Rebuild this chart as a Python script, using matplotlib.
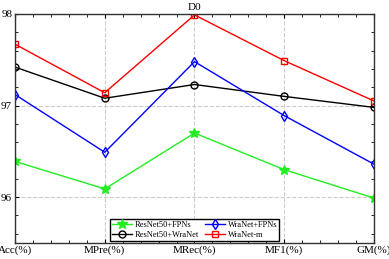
import numpy as np
import matplotlib.pyplot as plt
from matplotlib.ticker import MultipleLocator

plt.rcParams['font.family'] = ['Liberation Serif', 'DejaVu Serif']

metrics = ['Acc(%)', 'MPre(%)', 'MRec(%)', 'MF1(%)', 'GM(%)']
resnet_fpn = [96.39, 96.09, 96.70, 96.30, 95.99]
wranet_fpn = [97.12, 96.49, 97.48, 96.89, 96.36]
resnet_wranet = [97.42, 97.08, 97.23, 97.10, 96.98]
wranet_m = [97.67, 97.14, 97.99, 97.49, 97.05]

x = np.arange(len(metrics))

fig = plt.figure(figsize=(3.89, 2.59), dpi=100)
ax = fig.add_axes([0.0386, 0.062, 0.9228, 0.884])

ax.plot(x, resnet_fpn, '-*', color='#22ee22', lw=1, ms=7, label='ResNet50+FPNs')
ax.plot(x, resnet_wranet, '-o', color='k', lw=1, ms=5, mfc='none', label='ResNet50+WraNet')
ax.plot(x, wranet_fpn, '-d', color='#0000ff', lw=1, ms=5, mfc='none', label='WraNet+FPNs')
ax.plot(x, wranet_m, '-s', color='#ff0000', lw=1, ms=4.5, mfc='none', label='WraNet-m')

ax.set_xlim(0, 4)
ax.set_ylim(95.5, 98)
ax.set_xticks(x)
ax.set_xticklabels(metrics)
ax.set_yticks([96, 97, 98])
ax.xaxis.set_minor_locator(MultipleLocator(0.2))
ax.yaxis.set_minor_locator(MultipleLocator(0.2))
ax.tick_params(which='both', direction='in', top=True, right=True, labelsize=8, pad=2)
ax.tick_params(which='major', length=3)
ax.tick_params(which='minor', length=2)
ax.grid(True, which='major', ls='--', color='#cccccc', lw=0.8)
for s in ax.spines.values():
    s.set_linewidth(1)
    s.set_color('#333333')

ax.set_title('D0', fontsize=8, pad=3)

leg = ax.legend(loc='lower center', bbox_to_anchor=(0.5, 0.01), ncol=2, fontsize=6,
                fancybox=False, edgecolor='k', framealpha=1, handlelength=2.4,
                columnspacing=0.8, handletextpad=0.3, borderpad=0.25, labelspacing=0.15,
                borderaxespad=0)
leg.get_frame().set_linewidth(1)

fig.savefig('out.png', dpi=100)
